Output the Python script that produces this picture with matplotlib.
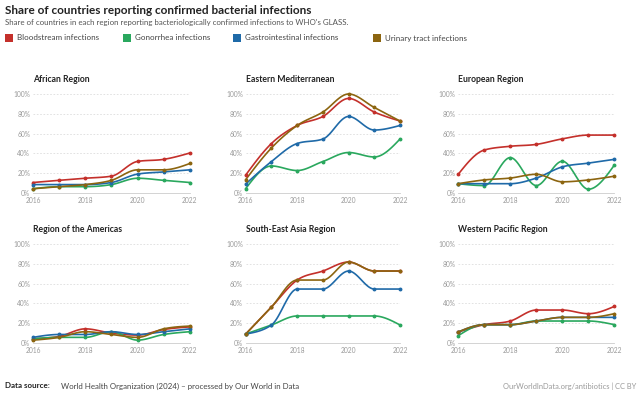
import numpy as np
import matplotlib.pyplot as plt
from matplotlib.patches import Rectangle

plt.rcParams['font.family'] = ['Lato', 'DejaVu Sans']

years = [2016, 2017, 2018, 2019, 2020, 2021, 2022]
series_names = ['Bloodstream infections', 'Gonorrhea infections',
                'Gastrointestinal infections', 'Urinary tract infections']
colors = ['#c4302b', '#2aa85e', '#1f6aa8', '#8c6510']

regions = ['African Region', 'Eastern Mediterranean', 'European Region',
           'Region of the Americas', 'South-East Asia Region', 'Western Pacific Region']

# values in percent, order: bloodstream, gonorrhea, gastrointestinal, urinary
african = [
    [10.6, 12.8, 14.9, 17.0, 31.9, 34.0, 40.4],
    [4.3, 6.4, 6.4, 8.5, 14.9, 12.8, 10.6],
    [8.5, 8.5, 8.5, 10.6, 19.1, 21.3, 23.4],
    [4.3, 6.4, 8.5, 12.8, 23.4, 23.4, 29.8],
]
eastern_med = [
    [18.2, 50.0, 68.2, 77.3, 95.5, 81.8, 72.7],
    [4.5, 27.3, 22.7, 31.8, 40.9, 36.4, 54.5],
    [9.1, 31.8, 50.0, 54.5, 77.3, 63.6, 68.2],
    [13.6, 45.5, 68.2, 81.8, 100.0, 86.4, 72.7],
]
european = [
    [18.9, 43.4, 47.2, 49.1, 54.7, 58.5, 58.5],
    [9.4, 7.5, 35.8, 7.5, 32.1, 3.8, 28.3],
    [9.4, 9.4, 9.4, 15.1, 26.4, 30.2, 34.0],
    [9.4, 13.2, 15.1, 18.9, 11.3, 13.2, 17.0],
]
americas = [
    [4.3, 6.7, 14.3, 10.0, 8.0, 13.6, 16.3],
    [4.3, 5.7, 5.7, 11.4, 2.9, 8.6, 11.4],
    [5.7, 8.6, 8.6, 11.4, 8.6, 11.4, 14.3],
    [2.9, 5.7, 11.4, 8.6, 5.7, 14.3, 17.1],
]
se_asia = [
    [9.1, 36.4, 63.6, 72.7, 81.8, 72.7, 72.7],
    [9.1, 18.2, 27.3, 27.3, 27.3, 27.3, 18.2],
    [9.1, 18.2, 54.5, 54.5, 72.7, 54.5, 54.5],
    [9.1, 36.4, 63.6, 63.6, 81.8, 72.7, 72.7],
]
western_pac = [
    [11.1, 18.5, 22.2, 33.3, 33.3, 29.6, 37.0],
    [7.4, 18.5, 18.5, 22.2, 22.2, 22.2, 18.5],
    [11.1, 18.5, 18.5, 22.2, 25.9, 25.9, 25.9],
    [11.1, 18.5, 18.5, 22.2, 25.9, 25.9, 29.6],
]
region_data = [african, eastern_med, european, americas, se_asia, western_pac]


# monotone cubic curve (like d3 curveMonotoneX) for drawing the lines
def monotone_curve(x, y, steps=20):
    x = np.asarray(x, float)
    y = np.asarray(y, float)
    n = len(x)
    h = np.diff(x)
    s = np.diff(y) / h
    t = np.zeros(n)
    for i in range(1, n - 1):
        s0, s1 = s[i - 1], s[i]
        p = (s0 * h[i] + s1 * h[i - 1]) / (h[i - 1] + h[i])
        t[i] = (np.sign(s0) + np.sign(s1)) * min(abs(s0), abs(s1), 0.5 * abs(p))
    t[0] = (3 * s[0] - t[1]) / 2
    t[-1] = (3 * s[-1] - t[-2]) / 2
    xs, ys = [], []
    for i in range(n - 1):
        u = np.linspace(0, 1, steps, endpoint=(i == n - 2))
        h00 = 2 * u**3 - 3 * u**2 + 1
        h10 = u**3 - 2 * u**2 + u
        h01 = -2 * u**3 + 3 * u**2
        h11 = u**3 - u**2
        xs.extend(x[i] + u * h[i])
        ys.extend(h00 * y[i] + h10 * h[i] * t[i] + h01 * y[i + 1] + h11 * h[i] * t[i + 1])
    return np.array(xs), np.array(ys)


fig = plt.figure(figsize=(6.4, 4.0), dpi=100)

fig.text(0.008, 0.9725, 'Share of countries reporting confirmed bacterial infections',
         fontsize=8.5, fontweight='bold', color='#222222', va='center')
fig.text(0.008, 0.945, "Share of countries in each region reporting bacteriologically "
         "confirmed infections to WHO's GLASS.", fontsize=5.7, color='#555555', va='center')

# legend
legend_x = [0.008, 0.192, 0.364, 0.583]
for lx, name, c in zip(legend_x, series_names, colors):
    fig.patches.append(Rectangle((lx, 0.894), 0.0125, 0.022, transform=fig.transFigure,
                                 facecolor=c, edgecolor='none'))
    fig.text(lx + 0.019, 0.905, name, fontsize=5.8, color='#444444', va='center')

lefts = [0.0516, 0.384, 0.716]
widths = [0.245, 0.241, 0.244]
bottoms = [0.5175, 0.1425]
height = 0.2475

for k, (region, data) in enumerate(zip(regions, region_data)):
    row, col = divmod(k, 3)
    ax = fig.add_axes([lefts[col], bottoms[row], widths[col], height])
    for vals, c in zip(data, colors):
        cx, cy = monotone_curve(years, vals)
        ax.plot(cx, cy, color=c, lw=1.2, clip_on=False, zorder=3)
        ax.plot(years, vals, 'o', color=c, ms=1.8, clip_on=False, zorder=4)
    ax.set_xlim(2016, 2022)
    ax.set_ylim(0, 100)
    ax.set_xticks([2016, 2018, 2020, 2022])
    ax.set_yticks([0, 20, 40, 60, 80, 100])
    ax.set_yticklabels(['0%', '20%', '40%', '60%', '80%', '100%'])
    ax.tick_params(length=0, labelsize=4.8, labelcolor='#9a9a9a', pad=2)
    ax.tick_params(axis='x', pad=3)
    for y in [20, 40, 60, 80, 100]:
        ax.axhline(y, color='#dddddd', lw=0.6, ls=(0, (2, 2)), zorder=1)
    for sp in ['top', 'right', 'left']:
        ax.spines[sp].set_visible(False)
    ax.spines['bottom'].set_color('#cccccc')
    ax.spines['bottom'].set_linewidth(0.6)
    ax.text(0.0, 1.15, region, transform=ax.transAxes, fontsize=6.2,
            fontweight='bold', color='#222222', va='center')

fig.text(0.008, 0.035, 'Data source:', fontsize=5.8, fontweight='bold', color='#222222', va='center')
fig.text(0.095, 0.035, 'World Health Organization (2024) – processed by Our World in Data',
         fontsize=5.7, color='#444444', va='center')
fig.text(0.994, 0.035, 'OurWorldInData.org/antibiotics | CC BY', fontsize=5.4,
         color='#9a9a9a', va='center', ha='right')

fig.savefig('out.png', dpi=100, facecolor='white')
